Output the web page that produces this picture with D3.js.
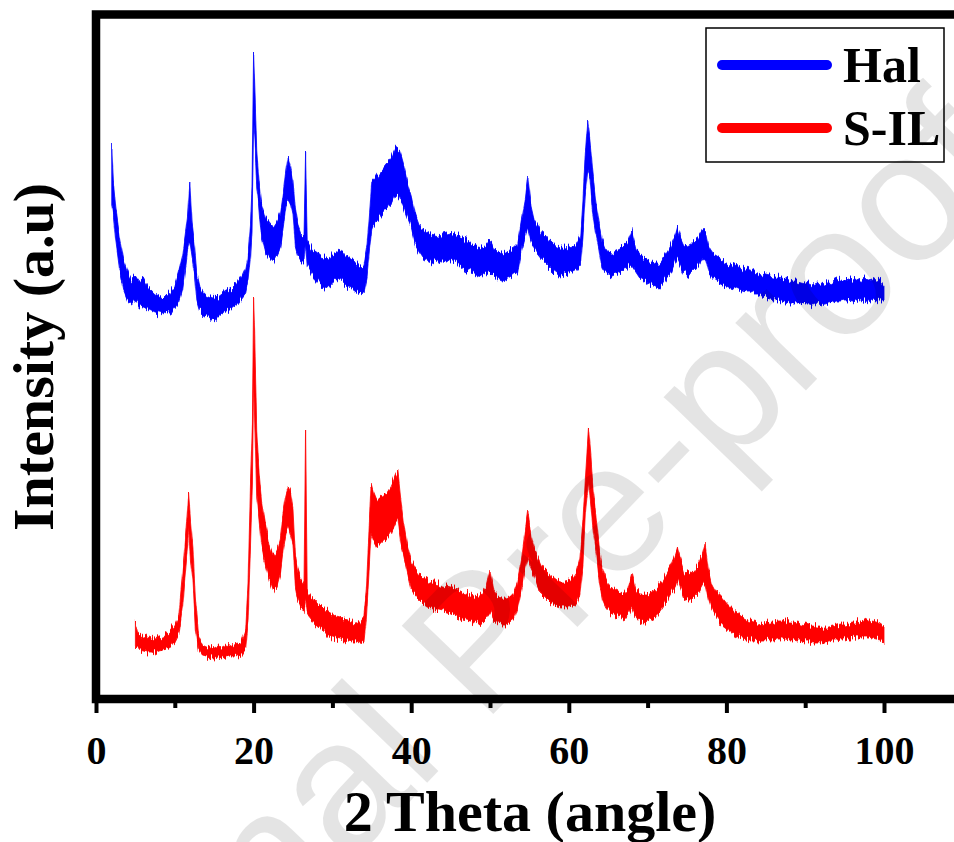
<!DOCTYPE html>
<html>
<head>
<meta charset="utf-8">
<script src="https://cdn.jsdelivr.net/npm/d3@7"></script>
<style>
  html, body { margin: 0; padding: 0; background: #fff; }
  svg { display: block; }
</style>
</head>
<body>
<svg id="chart" width="954" height="842"></svg>
<script>
// XRD traces: [2θ (deg), upper edge of noise band, lower edge of noise band] in a.u.
const halTrace = [
  [2.0,551,494],[2.2,517,485],[2.5,491,459],[3.0,461,429],[3.5,439,408],[4.0,427,398],[4.5,418,395],[5.0,423,399],[5.5,417,393],[6.0,420,392],
  [6.5,412,390],[7.0,409,388],[7.5,405,386],[8.0,403,385],[8.5,401,384],[9.0,405,386],[9.5,407,386],[10.0,413,391],[10.5,427,397],[11.0,444,411],
  [11.3,461,429],[11.6,479,449],[11.9,516,459],[12.2,473,443],[12.5,453,426],[12.8,425,399],[13.2,411,388],[13.6,406,385],[14.0,403,383],[14.5,401,381],
  [15.0,403,378],[15.5,402,383],[16.0,405,386],[16.5,408,388],[17.0,409,389],[17.5,413,392],[18.0,416,395],[18.5,422,401],[19.0,431,406],[19.3,444,418],
  [19.6,474,441],[19.8,511,469],[20.0,646,579],[20.2,599,553],[20.4,549,513],[20.6,527,498],[20.8,509,478],[21.0,495,463],[21.5,482,447],[22.0,477,440],
  [22.5,472,436],[23.0,478,444],[23.4,485,451],[23.8,507,473],[24.1,527,493],[24.4,542,499],[24.7,533,494],[25.0,519,483],[25.3,489,452],[25.6,475,443],
  [26.0,466,437],[26.4,463,437],[26.6,547,457],[26.8,459,434],[27.0,455,431],[27.5,449,423],[28.0,447,419],[28.5,443,415],[29.0,442,412],[29.5,440,411],
  [30.0,445,416],[30.5,447,419],[31.0,450,420],[31.5,444,416],[32.0,441,412],[32.5,438,411],[33.0,437,408],[33.5,434,406],[34.0,435,407],[34.4,454,423],
  [34.7,484,449],[35.0,517,471],[35.5,521,477],[36.0,527,481],[36.5,532,486],[37.0,537,491],[37.5,542,496],[38.0,552,504],[38.5,549,503],[39.0,535,492],
  [39.5,517,481],[40.0,504,471],[40.5,485,454],[41.0,474,447],[41.5,469,441],[42.0,466,439],[42.5,464,437],[43.0,463,439],[43.5,462,436],[44.0,465,439],
  [44.5,466,438],[45.0,467,437],[45.5,465,439],[46.0,463,434],[46.5,461,431],[47.0,459,429],[47.5,456,427],[48.0,454,426],[48.5,452,424],[49.0,451,423],
  [49.5,454,425],[50.0,459,427],[50.5,451,423],[51.0,447,420],[51.5,445,418],[52.0,446,419],[52.5,449,421],[53.0,451,424],[53.5,455,427],[54.0,479,449],
  [54.5,501,464],[54.8,522,473],[55.2,494,459],[55.6,480,451],[56.0,474,446],[56.5,467,441],[57.0,464,437],[57.5,459,433],[58.0,455,429],[58.5,452,426],
  [59.0,451,424],[59.5,451,425],[60.0,452,426],[60.5,453,427],[61.0,456,429],[61.5,464,434],[61.8,499,463],[62.1,546,506],[62.4,579,529],[62.7,559,519],
  [63.0,529,489],[63.4,499,467],[63.8,479,451],[64.2,459,431],[64.6,451,426],[65.0,447,424],[65.5,446,423],[66.0,448,425],[66.5,450,427],[67.0,454,431],
  [67.5,458,432],[68.0,468,433],[68.5,451,427],[69.0,444,421],[69.5,441,419],[70.0,439,416],[70.5,437,414],[71.0,436,412],[71.5,436,411],[72.0,441,416],
  [72.5,447,422],[73.0,454,427],[73.5,463,437],[73.8,472,441],[74.2,461,434],[74.6,454,427],[75.0,452,425],[75.5,454,427],[76.0,459,431],[76.5,462,434],
  [77.0,469,441],[77.4,466,438],[77.8,451,425],[78.2,446,421],[78.6,443,419],[79.0,441,417],[79.5,439,415],[80.0,437,414],[80.5,436,412],[81.0,434,411],
  [81.5,433,409],[82.0,431,408],[82.5,430,407],[83.0,429,407],[83.5,427,405],[84.0,426,405],[84.5,425,403],[85.0,424,402],[85.5,423,400],[86.0,422,399],
  [86.5,422,399],[87.0,421,398],[87.5,420,397],[88.0,419,396],[88.5,418,396],[89.0,418,396],[89.5,417,395],[90.0,416,395],[90.5,417,395],[91.0,415,394],
  [91.5,417,396],[92.0,416,394],[92.5,415,395],[93.0,418,396],[93.5,417,397],[94.0,419,398],[94.5,420,398],[95.0,419,399],[95.5,421,399],[96.0,419,398],
  [96.5,420,399],[97.0,418,398],[97.5,421,399],[98.0,419,397],[98.5,420,399],[99.0,418,398],[99.5,419,399],[100.0,414,399]
];

const silTrace = [
  [5.0,77,51],[5.3,67,52],[5.6,65,49],[6.0,62,48],[6.5,63,47],[7.0,61,47],[7.5,60,46],[8.0,62,48],[8.5,63,49],[9.0,65,50],
  [9.5,69,52],[10.0,74,57],[10.5,83,65],[11.0,126,92],[11.3,154,124],[11.6,186,151],[11.75,206,169],[12.0,179,139],[12.3,151,119],[12.6,102,72],
  [13.0,63,49],[13.5,54,43],[14.0,52,42],[14.5,53,41],[15.0,51,41],[15.5,53,42],[16.0,52,41],[16.5,54,42],[17.0,53,43],[17.5,55,43],
  [18.0,56,42],[18.5,59,43],[19.0,71,51],[19.3,117,77],[19.6,211,153],[19.85,279,219],[20.0,402,319],[20.15,359,279],[20.4,269,202],[20.7,226,179],
  [21.0,199,154],[21.5,174,134],[22.0,154,119],[22.5,143,107],[23.0,149,114],[23.4,161,126],[23.8,189,151],[24.1,204,166],[24.4,212,172],[24.7,207,164],
  [25.0,191,154],[25.3,144,111],[25.6,129,99],[26.0,119,91],[26.4,114,89],[26.6,271,99],[26.8,109,85],[27.0,106,82],[27.5,101,77],[28.0,96,72],
  [28.5,93,69],[29.0,90,66],[29.5,87,62],[30.0,85,61],[30.5,82,60],[31.0,81,59],[31.5,79,58],[32.0,78,59],[32.5,77,58],[33.0,76,58],
  [33.5,78,57],[34.0,84,56],[34.3,109,79],[34.6,159,119],[34.9,216,166],[35.2,207,159],[35.6,199,152],[36.0,202,154],[36.5,205,158],[37.0,207,161],
  [37.5,214,167],[38.0,224,177],[38.3,229,179],[38.7,199,154],[39.0,179,144],[39.5,154,126],[40.0,139,109],[40.5,131,104],[41.0,126,99],[41.5,122,95],
  [42.0,119,92],[42.5,117,91],[43.0,117,89],[43.5,116,89],[44.0,114,88],[44.5,113,87],[45.0,112,86],[45.5,110,84],[46.0,109,82],[46.5,107,80],
  [47.0,106,79],[47.5,104,78],[48.0,103,77],[48.5,102,76],[49.0,105,77],[49.5,111,81],[50.0,129,87],[50.5,107,79],[51.0,102,76],[51.5,101,75],
  [52.0,101,75],[52.5,102,76],[53.0,106,79],[53.5,117,91],[54.0,139,109],[54.4,164,129],[54.8,186,141],[55.2,164,131],[55.6,151,124],[56.0,143,114],
  [56.5,134,105],[57.0,129,101],[57.5,125,97],[58.0,122,95],[58.5,119,93],[59.0,118,92],[59.5,118,92],[60.0,119,92],[60.5,121,93],[61.0,127,96],
  [61.4,139,104],[61.8,177,134],[62.1,221,184],[62.5,271,219],[62.8,244,194],[63.1,209,169],[63.5,179,146],[63.9,149,117],[64.3,129,99],[64.7,119,92],
  [65.0,114,89],[65.5,111,86],[66.0,109,84],[66.5,107,81],[67.0,106,79],[67.5,111,84],[68.0,125,92],[68.5,109,82],[69.0,105,78],[69.5,105,76],
  [70.0,105,78],[70.5,107,80],[71.0,109,82],[71.5,114,86],[72.0,119,92],[72.5,126,99],[73.0,134,106],[73.5,144,111],[73.8,152,119],[74.2,139,109],
  [74.6,129,101],[75.0,126,99],[75.5,127,99],[76.0,131,103],[76.5,137,107],[77.0,147,114],[77.3,156,117],[77.7,131,101],[78.1,117,91],[78.5,111,85],
  [79.0,105,79],[79.5,101,74],[80.0,96,71],[80.5,92,67],[81.0,88,64],[81.5,85,62],[82.0,82,61],[82.5,80,60],[83.0,78,59],[83.5,77,59],
  [84.0,76,58],[84.5,77,59],[85.0,76,59],[85.5,78,60],[86.0,78,60],[86.5,79,61],[87.0,79,61],[87.5,78,60],[88.0,77,59],[88.5,77,59],
  [89.0,76,58],[89.5,75,58],[90.0,74,57],[90.5,73,57],[91.0,73,56],[91.5,72,56],[92.0,72,56],[92.5,72,57],[93.0,72,58],[93.5,73,59],
  [94.0,74,59],[94.5,75,60],[95.0,75,60],[95.5,76,61],[96.0,77,61],[96.5,77,62],[97.0,78,62],[97.5,79,62],[98.0,81,62],[98.5,78,61],
  [99.0,77,60],[99.5,75,59],[100.0,72,56]
];

const majorTicks = [0, 20, 40, 60, 80, 100];
const minorTicks = [10, 30, 50, 70, 90];
const seriesNames = ["Hal", "S-IL"];
const seriesColors = ["#0000ff", "#ff0000"];
const xTitle = "2 Theta (angle)";
const yTitle = "Intensity (a.u)";
const stamp = "Journal Pre-proof";

const serif = "'Liberation Serif', 'Times New Roman', Times, serif";
const svg = d3.select("#chart");

const x = d3.scaleLinear().domain([0, 100]).range([96, 884]);
const y = d3.scaleLinear().domain([0, 685]).range([699, 14]);

// detector-noise texture: jitters each pixel column of a band vertically
const defs = svg.append("defs");
const grain = defs.append("filter")
  .attr("id", "grain")
  .attr("x", "-1%").attr("y", "-10%").attr("width", "102%").attr("height", "120%")
  .attr("color-interpolation-filters", "sRGB");
grain.append("feTurbulence")
  .attr("type", "fractalNoise").attr("baseFrequency", "0.7 0.02")
  .attr("numOctaves", 2).attr("seed", 7).attr("result", "noise");
grain.append("feColorMatrix")
  .attr("in", "noise").attr("type", "matrix")
  .attr("values", "1 0 0 0 0  0 1 0 0 0  0 0 1 0 0  0 0 0 0 0.5")
  .attr("result", "map");
grain.append("feDisplacementMap")
  .attr("in", "SourceGraphic").attr("in2", "map")
  .attr("scale", 15).attr("xChannelSelector", "A").attr("yChannelSelector", "R");

// traces drawn as filled noise bands
const band = d3.area()
  .x(d => x(d[0]))
  .y0(d => y(d[2]))
  .y1(d => y(d[1]));

[halTrace, silTrace].forEach((trace, i) => {
  svg.append("path")
    .datum(trace)
    .attr("d", band)
    .attr("fill", seriesColors[i])
    .attr("stroke", seriesColors[i])
    .attr("stroke-width", 0.8)
    .attr("filter", "url(#grain)");
});

// frame (right edge runs past the visible area)
svg.append("rect")
  .attr("x", x(0))
  .attr("y", y(685) + 0.5)
  .attr("width", x(120) - x(0))
  .attr("height", y(0) - y(685) - 0.5)
  .attr("fill", "none")
  .attr("stroke", "#000")
  .attr("stroke-width", 8.5);

// bottom axis: minor ticks then labelled major ticks
const minorAxis = d3.axisBottom(x).tickValues(minorTicks).tickSize(9).tickFormat("");
const majorAxis = d3.axisBottom(x).tickValues(majorTicks).tickSize(14).tickFormat(d3.format("d"));

[minorAxis, majorAxis].forEach(ax => {
  const g = svg.append("g").attr("transform", `translate(0,${y(0)})`).call(ax);
  g.select(".domain").remove();
  g.selectAll(".tick line").attr("stroke", "#000").attr("stroke-width", 4);
  g.selectAll(".tick text")
    .attr("y", 65).attr("dy", 0)
    .attr("fill", "#000")
    .attr("font-family", serif)
    .attr("font-weight", "bold")
    .attr("font-size", 40);
});

// axis titles
svg.append("text")
  .attr("x", 530).attr("y", 831)
  .attr("text-anchor", "middle")
  .attr("font-family", serif).attr("font-weight", "bold").attr("font-size", 58)
  .text(xTitle);

svg.append("text")
  .attr("transform", "translate(53,357) rotate(-90)")
  .attr("text-anchor", "middle")
  .attr("font-family", serif).attr("font-weight", "bold").attr("font-size", 58)
  .text(yTitle);

// legend
const lg = svg.append("g");
lg.append("rect")
  .attr("x", 706).attr("y", 28).attr("width", 238).attr("height", 134)
  .attr("fill", "#fff").attr("stroke", "#000").attr("stroke-width", 1.5);
seriesNames.forEach((name, i) => {
  const cy = 65 + i * 63;
  lg.append("line")
    .attr("x1", 722).attr("x2", 827).attr("y1", cy).attr("y2", cy)
    .attr("stroke", seriesColors[i]).attr("stroke-width", 10).attr("stroke-linecap", "round");
  lg.append("text")
    .attr("x", 843).attr("y", cy + 17)
    .attr("font-family", serif).attr("font-weight", "bold").attr("font-size", 50)
    .text(name);
});

// translucent diagonal stamp laid over the whole figure
svg.append("text")
  .attr("transform", "translate(476,640) rotate(-46)")
  .attr("text-anchor", "middle")
  .attr("dominant-baseline", "central")
  .attr("font-family", "'Liberation Sans', Arial, sans-serif")
  .attr("font-size", 185)
  .attr("fill", "#000")
  .attr("fill-opacity", 0.105)
  .attr("pointer-events", "none")
  .text(stamp);
</script>
</body>
</html>
